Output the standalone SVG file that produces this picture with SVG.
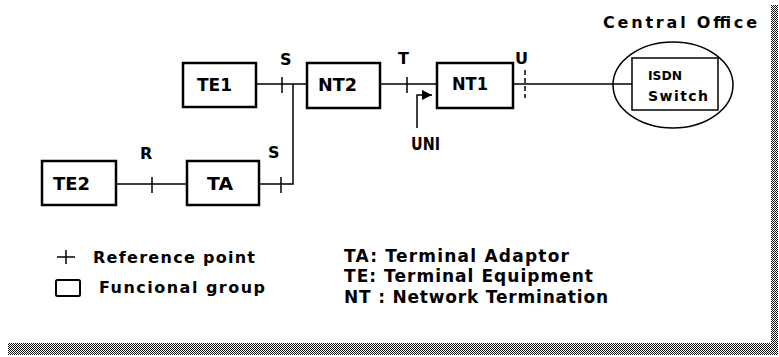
<svg xmlns="http://www.w3.org/2000/svg" width="779" height="357" viewBox="0 0 779 357">
<defs>
<pattern id="chk" patternUnits="userSpaceOnUse" width="2" height="2">
<rect width="2" height="2" fill="#fff"/>
<rect width="1" height="1" fill="#111"/>
<rect x="1" y="1" width="1" height="1" fill="#111"/>
</pattern>
<marker id="ah" viewBox="0 0 10 10" refX="10" refY="5" markerWidth="10" markerHeight="10" markerUnits="userSpaceOnUse" orient="auto">
<path d="M0,0 L10,5 L0,10 Z" fill="#000"/>
</marker>
<style>
.box{fill:#fff;stroke:#000;stroke-width:2.5}
.ln{fill:none;stroke:#000;stroke-width:1.5}
.tk{stroke:#000;stroke-width:1.5}
text{font-family:"DejaVu Sans","Liberation Sans",Arial,sans-serif;font-weight:bold;fill:#000}
.bl{font-size:18px}
.lb{font-size:16px}
.lg{font-size:17px}
</style>
</defs>
<rect width="779" height="357" fill="#fff"/>
<g id="shadow">
<rect x="771" y="5" width="7" height="350" fill="url(#chk)"/>
<rect x="8" y="343" width="770" height="12" fill="url(#chk)"/>
</g>
<g id="connectors">
<line class="ln" x1="256" y1="84" x2="307" y2="84"/>
<line class="tk" x1="282" y1="77" x2="282" y2="93"/>
<polyline class="ln" points="293,84 293,184 259,184"/>
<line class="tk" x1="281" y1="177" x2="281" y2="193"/>
<line class="ln" x1="116" y1="184" x2="187" y2="184"/>
<line class="tk" x1="152" y1="177" x2="152" y2="193"/>
<line class="ln" x1="380" y1="84" x2="437" y2="84"/>
<line class="tk" x1="407" y1="77" x2="407" y2="93"/>
<line class="ln" x1="513" y1="84" x2="632" y2="84"/>
<line class="tk" x1="525" y1="70" x2="525" y2="98" stroke-dasharray="5,3"/>
<path class="ln" d="M417,128 V95 H432" stroke-width="2" marker-end="url(#ah)"/>
</g>
<g id="te1"><rect class="box" x="183" y="63" width="73" height="44"/><text class="bl" x="197" y="91" textLength="35" lengthAdjust="spacingAndGlyphs">TE1</text></g>
<g id="nt2"><rect class="box" x="307" y="63" width="73" height="45"/><text class="bl" x="318" y="91" textLength="39" lengthAdjust="spacingAndGlyphs">NT2</text></g>
<g id="nt1"><rect class="box" x="437" y="63" width="76" height="45"/><text class="bl" x="452" y="90" textLength="36" lengthAdjust="spacingAndGlyphs">NT1</text></g>
<g id="te2"><rect class="box" x="42" y="161" width="74" height="44"/><text class="bl" x="53" y="190" textLength="37" lengthAdjust="spacingAndGlyphs">TE2</text></g>
<g id="ta"><rect class="box" x="187" y="161" width="72" height="44"/><text class="bl" x="207" y="190" textLength="26" lengthAdjust="spacingAndGlyphs">TA</text></g>
<g id="central-office">
<ellipse cx="673" cy="85" rx="60" ry="43" fill="none" stroke="#000" stroke-width="1.5"/>
<text class="lb" x="603" y="28" textLength="154">Central Office</text>
</g>
<g id="isdn-switch">
<rect x="632" y="58" width="86" height="52" fill="#fff" stroke="#000" stroke-width="1.5"/>
<text x="648" y="80" font-size="12" textLength="34" lengthAdjust="spacingAndGlyphs">ISDN</text>
<text x="648" y="101" font-size="14" textLength="60">Switch</text>
</g>
<g id="labels">
<text class="lb" x="280" y="65">S</text>
<text class="lb" x="268" y="158">S</text>
<text class="lb" x="398" y="64">T</text>
<text class="lb" x="515" y="64">U</text>
<text class="lb" x="140" y="159">R</text>
<text x="411" y="150" font-size="17" textLength="29" lengthAdjust="spacingAndGlyphs">UNI</text>
</g>
<g id="legend">
<line class="tk" x1="57" y1="257" x2="75" y2="257"/>
<line class="tk" x1="66" y1="250" x2="66" y2="264"/>
<rect x="56" y="280" width="24" height="16" rx="1.5" fill="none" stroke="#000" stroke-width="2"/>
<text class="lb" x="93" y="263" textLength="162">Reference point</text>
<text class="lb" x="99" y="293" textLength="166">Funcional group</text>
<text class="lg" x="344" y="262" textLength="225">TA: Terminal Adaptor</text>
<text class="lg" x="344" y="282" textLength="249">TE: Terminal Equipment</text>
<text class="lg" x="344" y="303" textLength="264">NT : Network Termination</text>
</g>
</svg>
